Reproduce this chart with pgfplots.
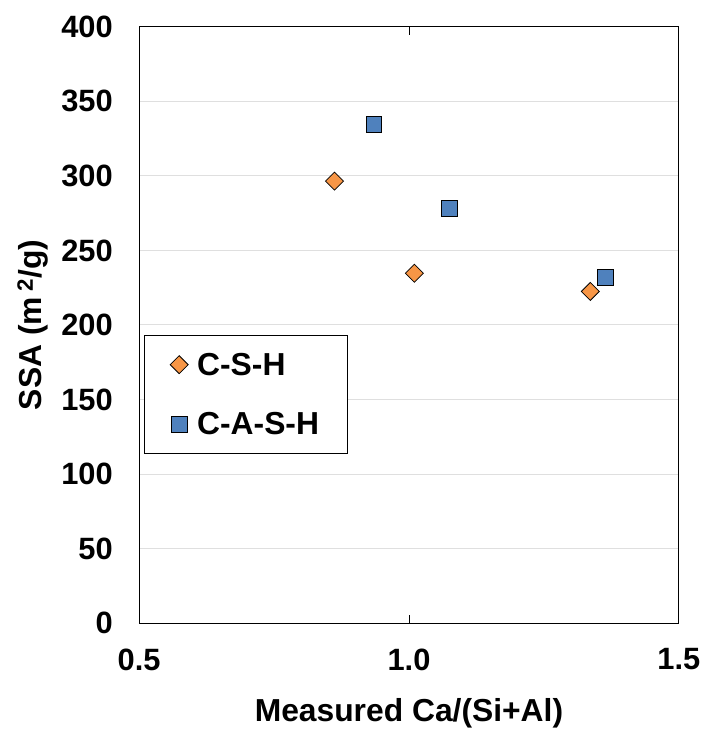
\documentclass[border=0pt]{standalone}
\usepackage{fontspec}
\setmainfont{Liberation Sans}
\usepackage{pgfplots}
\pgfplotsset{compat=1.18}
\definecolor{csh}{HTML}{F79646}
\definecolor{cash}{HTML}{4F81BD}
\begin{document}
\begin{tikzpicture}
\begin{axis}[
    scale only axis,
    width=543pt, height=600pt,
    xmin=0.5, xmax=1.5, ymin=0, ymax=400,
    xtick={0.5,1.0,1.5},
    ytick={0,50,...,400},
    xticklabel style={yshift=-22pt, /pgf/number format/.cd,fixed,fixed zerofill,precision=1},
    /pgf/number format/assume math mode=true,
    tick label style={font=\fontsize{31}{35}\selectfont\bfseries},
    yticklabel style={xshift=-23pt},
    label style={font=\fontsize{32}{36}\selectfont\bfseries},
    tick align=inside,
    major tick length=8pt,
    ytick style={draw=none},
    xtick style={black, line width=0.8pt},
    ymajorgrids,
    grid style={gray!25, line width=1pt},
    axis line style={black, line width=1pt},
    xlabel={Measured Ca/(Si+Al)},
    ylabel={SSA (m\,\textsuperscript{2}/g)},
    xlabel style={yshift=-21pt},
    ylabel style={yshift=6pt},
    legend style={at={(0.009,0.484)}, anchor=north west, draw=black, line width=0.8pt,
        font=\fontsize{32}{36}\selectfont\bfseries, row sep=30pt,
        inner xsep=26pt, inner ysep=15pt, nodes={inner sep=3pt},
        /tikz/every odd column/.append style={column sep=6pt}},
    legend cell align=left,
    legend image code/.code={\draw[#1] plot coordinates {(0pt,0pt)};},
]
\addplot[only marks, mark=square*, mark size=6.4pt, mark options={rotate=45, fill=csh, draw=black, line width=0.8pt}]
    coordinates {(0.862,296.5) (1.010,234.7) (1.336,222.5)};
\addlegendentry{C-S-H}
\addplot[only marks, mark=square*, mark size=8pt, mark options={fill=cash, draw=black, line width=0.8pt}]
    coordinates {(0.935,334.5) (1.075,278.5) (1.364,232)};
\addlegendentry{C-A-S-H}
\coordinate (bl) at (rel axis cs:0,0);
\coordinate (tr) at (rel axis cs:1,1);
\end{axis}
\path (bl) ++(-140pt,-104pt) (tr) ++(22pt,27pt);
\end{tikzpicture}
\end{document}
